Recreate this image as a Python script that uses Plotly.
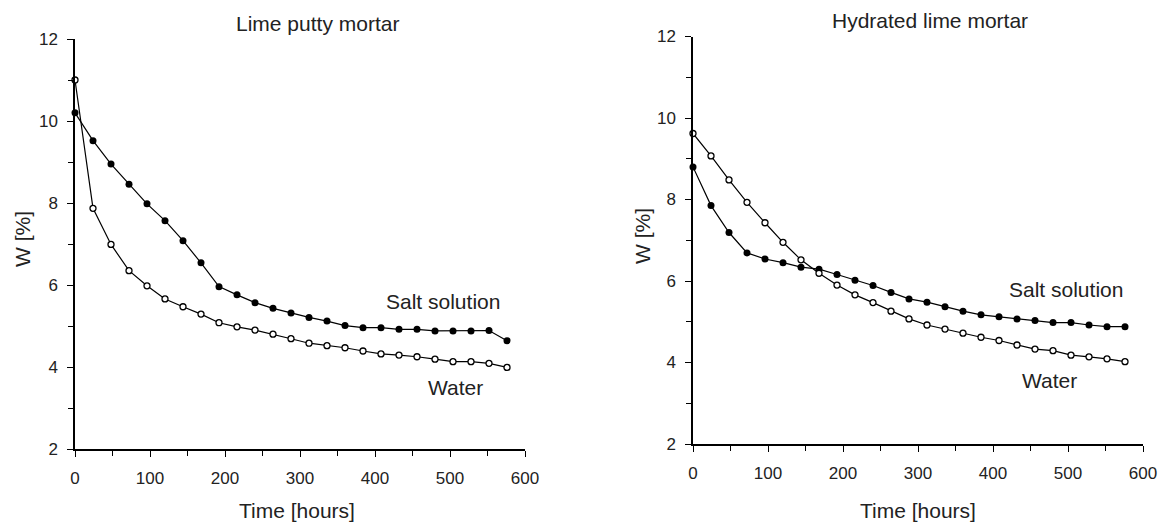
import plotly.graph_objects as go

time_h = [0, 24, 48, 72, 96, 120, 144, 168, 192, 216, 240, 264, 288,
          312, 336, 360, 384, 408, 432, 456, 480, 504, 528, 552, 576]

putty_salt = [10.2, 9.52, 8.95, 8.46, 7.98, 7.57, 7.08, 6.54, 5.96, 5.76, 5.57, 5.43, 5.32,
              5.21, 5.12, 5.01, 4.96, 4.96, 4.92, 4.92, 4.88, 4.88, 4.88, 4.89, 4.64]
putty_water = [11.0, 7.87, 6.99, 6.35, 5.98, 5.66, 5.47, 5.29, 5.08, 4.98, 4.90, 4.80, 4.69,
               4.58, 4.52, 4.47, 4.39, 4.32, 4.29, 4.25, 4.19, 4.13, 4.13, 4.09, 3.99]

hydr_salt = [8.80, 7.85, 7.19, 6.69, 6.54, 6.45, 6.34, 6.29, 6.16, 6.02, 5.89, 5.72, 5.56,
             5.48, 5.37, 5.26, 5.17, 5.12, 5.07, 5.03, 4.98, 4.98, 4.92, 4.88, 4.88]
hydr_water = [9.62, 9.07, 8.48, 7.93, 7.43, 6.95, 6.52, 6.19, 5.90, 5.66, 5.47, 5.26, 5.07,
              4.92, 4.82, 4.72, 4.62, 4.54, 4.43, 4.33, 4.29, 4.18, 4.14, 4.09, 4.02]

titles = ["Lime putty mortar", "Hydrated lime mortar"]
x_title = "Time [hours]"
y_title = "W [%]"
series_names = ["Salt solution", "Water"]

# page body has an 8px margin; figure fills the rest of the 1167x524 window
OFF = 8
W, H = 1167 - OFF, 524 - OFF
FONT = "Liberation Sans, Arial, sans-serif"
TXT = "#222222"

fig = go.Figure()

def add_pair(salt, water, xa, ya):
    fig.add_trace(go.Scatter(
        x=time_h, y=salt, mode="lines+markers", xaxis=xa, yaxis=ya,
        line=dict(color="black", width=1.2),
        marker=dict(symbol="circle", size=7, color="black"),
        cliponaxis=False, showlegend=False, name=series_names[0]))
    fig.add_trace(go.Scatter(
        x=time_h, y=water, mode="lines+markers", xaxis=xa, yaxis=ya,
        line=dict(color="black", width=1.2),
        marker=dict(symbol="circle", size=6, color="white",
                    line=dict(color="black", width=1.3)),
        cliponaxis=False, showlegend=False, name=series_names[1]))

add_pair(putty_salt, putty_water, "x", "y")
add_pair(hydr_salt, hydr_water, "x2", "y2")

def xax(domain, anchor):
    return dict(domain=domain, anchor=anchor, range=[0, 600], dtick=100, tick0=0,
                automargin=False,
                showgrid=False, zeroline=False, showline=True, linecolor="black", linewidth=1.5,
                ticks="outside", ticklen=6, tickwidth=1.3, tickcolor="black",
                ticklabelstandoff=7,
                minor=dict(dtick=50, tick0=0, ticks="outside", ticklen=5, tickwidth=1.3,
                           tickcolor="black", showgrid=False),
                tickfont=dict(family=FONT, size=17, color=TXT), fixedrange=True)

def yax(domain, anchor):
    return dict(domain=domain, anchor=anchor, range=[2, 12], dtick=2, tick0=2,
                automargin=False,
                showgrid=False, zeroline=False, showline=True, linecolor="black", linewidth=1.5,
                ticks="outside", ticklen=6, tickwidth=1.3, tickcolor="black",
                ticklabelstandoff=6,
                minor=dict(dtick=1, tick0=2, ticks="outside", ticklen=5, tickwidth=1.3,
                           tickcolor="black", showgrid=False),
                tickfont=dict(family=FONT, size=17, color=TXT), fixedrange=True)

def px(x):
    return (x - OFF) / W

def py(y):
    return 1 - (y - OFF) / H

fig.update_layout(
    width=W, height=H,
    margin=dict(l=0, r=0, t=0, b=0),
    paper_bgcolor="white", plot_bgcolor="white",
    xaxis=xax([px(75), px(525)], "y"),
    yaxis=yax([py(449), py(39)], "x"),
    xaxis2=xax([px(693), px(1143)], "y2"),
    yaxis2=yax([py(444), py(36.5)], "x2"),
)

ann = []
def a(text, x, y, xref="paper", yref="paper", angle=0):
    ann.append(dict(text=text, x=x, y=y, xref=xref, yref=yref, showarrow=False,
                    textangle=angle, xanchor="center", yanchor="middle",
                    font=dict(family=FONT, size=21, color=TXT)))

a(titles[0], px(317), py(23))
a(titles[1], px(930), py(20))
a(x_title, px(297), py(510))
a(x_title, px(918), py(510))
a(y_title, px(22), py(239), angle=-90)
a(y_title, px(642), py(236), angle=-90)
a(series_names[0], 491, 5.59, "x", "y")
a(series_names[1], 507, 3.51, "x", "y")
a(series_names[0], 497, 5.78, "x2", "y2")
a(series_names[1], 475, 3.57, "x2", "y2")

fig.update_layout(annotations=ann)
fig.write_html("out.html")
